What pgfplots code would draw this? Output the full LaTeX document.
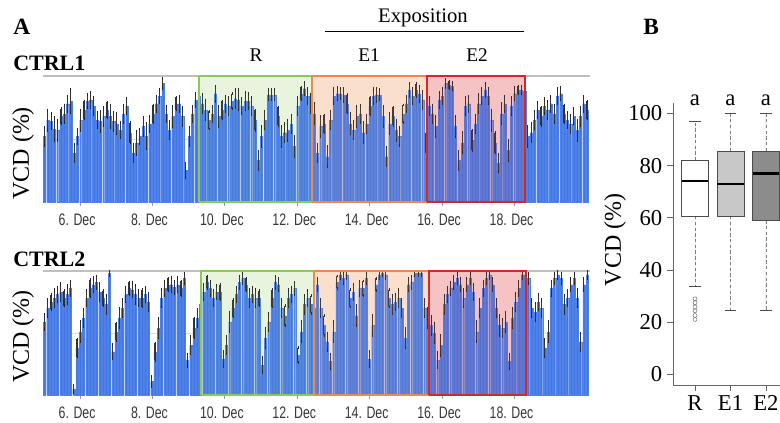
\documentclass[border=0pt]{standalone}
\usepackage{fontspec}
\setmainfont{Liberation Serif}
\newfontfamily\tickfont{Liberation Sans}
\usepackage{graphicx}
\usepackage{pgfplots}
\usepackage{pgfplotstable}
\pgfplotsset{compat=1.18}
\usepgfplotslibrary{statistics}

\definecolor{barblue}{RGB}{66,118,232}
\definecolor{baredge}{RGB}{80,130,230}
\definecolor{rline}{RGB}{140,200,90}
\definecolor{rfill}{RGB}{150,210,100}
\definecolor{rbg}{RGB}{239,247,230}
\definecolor{e1line}{RGB}{230,140,80}
\definecolor{e1fill}{RGB}{240,140,80}
\definecolor{e1bg}{RGB}{252,233,220}
\definecolor{e2line}{RGB}{210,40,40}
\definecolor{e2fill}{RGB}{220,60,60}
\definecolor{e2bg}{RGB}{249,216,216}
\definecolor{ticktext}{RGB}{55,55,55}
\definecolor{boxEone}{RGB}{200,200,200}
\definecolor{boxEtwo}{RGB}{140,140,140}

\pgfplotstableread[row sep=\\]{
v e \\
52 7 \\ 65 8 \\ 64 6 \\ 58 9 \\ 57 8 \\ 68 6 \\ 70 7 \\ 78 6 \\ 80 9 \\ 39 7 \\
52 6 \\ 65 8 \\ 73 7 \\ 80 5 \\ 81 6 \\ 76 7 \\ 65 6 \\ 64 8 \\ 68 7 \\ 73 6 \\
68 9 \\ 64 7 \\ 62 8 \\ 57 6 \\ 70 7 \\ 76 6 \\ 55 8 \\ 39 7 \\ 47 9 \\ 52 6 \\
60 7 \\ 52 10 \\ 62 6 \\ 70 7 \\ 78 6 \\ 84 5 \\ 94 4 \\ 70 6 \\ 57 7 \\ 68 8 \\
78 5 \\ 78 6 \\ 68 7 \\ 25 6 \\ 52 7 \\ 70 6 \\ 81 5 \\ 84 6 \\ 78 7 \\ 73 8 \\
65 7 \\ 70 6 \\ 86 6 \\ 68 8 \\ 73 7 \\ 78 6 \\
76 7 \\ 80 6 \\ 82 7 \\ 81 8 \\ 76 6 \\ 80 7 \\ 80 6 \\ 76 7 \\ 65 8 \\ 33 7 \\
52 8 \\ 65 7 \\ 85 4 \\ 85 4 \\ 85 4 \\ 68 7 \\ 52 8 \\ 55 7 \\ 57 8 \\ 62 7 \\
44 8 \\ 76 7 \\ 86 5 \\ 90 5 \\ 84 6 \\ 78 7 \\ 70 8 \\ 39 7 \\ 60 8 \\ 62 7 \\
36 8 \\ 65 7 \\ 84 6 \\ 86 5 \\ 86 4 \\ 85 5 \\ 78 7 \\ 62 8 \\ 57 7 \\ 68 8 \\
70 7 \\ 55 8 \\ 62 7 \\ 76 7 \\ 84 6 \\ 85 5 \\ 85 4 \\ 68 8 \\ 36 7 \\ 62 8 \\
68 7 \\ 57 8 \\ 52 7 \\ 70 7 \\ 78 6 \\
89 5 \\ 84 6 \\ 89 5 \\ 86 6 \\ 81 7 \\ 47 8 \\ 76 7 \\ 70 7 \\ 60 8 \\ 81 6 \\
84 6 \\ 94 3 \\ 93 3 \\ 92 3 \\ 60 8 \\ 33 7 \\ 47 8 \\ 76 7 \\ 78 6 \\ 49 8 \\
62 7 \\ 78 7 \\ 84 6 \\ 89 5 \\ 84 6 \\ 65 8 \\ 47 8 \\ 31 7 \\ 70 8 \\ 78 6 \\
41 8 \\ 76 7 \\ 86 5 \\ 89 3 \\ 89 3 \\ 88 3 \\ 52 8 \\ 55 7 \\ 65 7 \\ 73 6 \\
68 7 \\ 76 6 \\ 73 7 \\ 78 6 \\ 70 7 \\ 84 6 \\ 86 5 \\ 70 7 \\ 65 6 \\ 62 7 \\
68 6 \\ 57 8 \\ 68 7 \\ 78 6 \\ 73 7 \\
}\ctrlone

\pgfplotstableread[row sep=\\]{
v e \\
59 6 \\ 70 7 \\ 75 6 \\ 78 7 \\ 81 6 \\ 83 7 \\ 78 6 \\ 81 7 \\ 86 6 \\ 5 3 \\
38 7 \\ 51 8 \\ 62 7 \\ 78 6 \\ 86 7 \\ 89 6 \\ 91 5 \\ 83 7 \\ 78 6 \\ 73 7 \\
98 2 \\ 35 6 \\ 51 7 \\ 62 8 \\ 70 7 \\ 81 6 \\ 86 5 \\ 85 6 \\ 81 7 \\ 78 6 \\
78 7 \\ 81 6 \\ 75 7 \\ 11 4 \\ 35 7 \\ 54 8 \\ 78 7 \\ 86 6 \\ 89 5 \\ 89 6 \\
87 5 \\ 89 6 \\ 86 6 \\ 94 4 \\ 28 5 \\ 40 7 \\ 54 8 \\ 62 7 \\ 73 7 \\ 83 6 \\
91 5 \\ 86 6 \\ 78 6 \\ 83 5 \\ 83 6 \\ 29 6 \\ 40 7 \\ 59 8 \\ 70 7 \\
81 6 \\ 91 5 \\ 94 4 \\ 89 5 \\ 78 7 \\ 81 6 \\ 78 7 \\ 78 6 \\ 24 6 \\ 46 8 \\
59 7 \\ 78 7 \\ 91 5 \\ 89 5 \\ 70 7 \\ 64 8 \\ 78 7 \\ 81 6 \\ 86 5 \\ 32 6 \\
51 8 \\ 73 7 \\ 78 6 \\ 73 7 \\ 70 8 \\ 89 5 \\ 70 7 \\ 56 8 \\ 43 7 \\ 27 6 \\
51 8 \\ 91 5 \\ 97 3 \\ 94 4 \\ 97 3 \\ 78 7 \\ 83 6 \\ 64 8 \\ 86 6 \\ 86 6 \\
94 4 \\ 29 6 \\ 56 8 \\ 89 5 \\ 97 3 \\ 98 2 \\ 97 3 \\ 78 7 \\ 73 7 \\ 75 6 \\
78 7 \\ 70 7 \\ 46 8 \\ 89 5 \\ 91 5 \\
98 2 \\ 98 2 \\ 98 2 \\ 70 7 \\ 62 8 \\ 56 7 \\ 50 8 \\ 28 6 \\ 40 8 \\ 73 7 \\
81 6 \\ 86 5 \\ 91 5 \\ 94 4 \\ 89 5 \\ 78 7 \\ 89 5 \\ 94 4 \\ 83 6 \\ 51 8 \\
70 7 \\ 86 6 \\ 94 4 \\ 97 3 \\ 89 5 \\ 70 7 \\ 56 8 \\ 54 7 \\ 59 8 \\ 27 6 \\
62 8 \\ 75 7 \\ 86 6 \\ 97 3 \\ 97 3 \\ 94 4 \\ 70 7 \\ 67 7 \\ 75 6 \\ 70 7 \\
38 7 \\ 51 8 \\ 86 6 \\ 94 4 \\ 97 3 \\ 94 4 \\ 73 7 \\ 78 6 \\ 89 5 \\ 94 4 \\
78 7 \\ 43 7 \\ 89 5 \\ 97 3 \\
}\ctrltwo

\pgfplotsset{
  panelA/.style={
    anchor=south west, scale only axis, width=410.25pt,
    xmin=43, xmax=590, ymin=0, ymax=100, clip=false,
    axis line style={draw=none},
    ytick={50,100}, yticklabels={}, ytick style={draw=none},
    ymajorgrids, y grid style={black!12, line width=0.5pt},
    xtick={80,152.4,224.8,297.2,369.6,442,514.4},
    xticklabels={\scalebox{0.74}[1]{6. Dec},\scalebox{0.74}[1]{8. Dec},\scalebox{0.74}[1]{10. Dec},\scalebox{0.74}[1]{12. Dec},\scalebox{0.74}[1]{14. Dec},\scalebox{0.74}[1]{16. Dec},\scalebox{0.74}[1]{18. Dec}},
    xtick pos=left, tick align=outside, major tick length=3pt,
    xtick style={black!40, line width=0.5pt},
    xticklabel style={font=\tickfont\fontsize{12.5}{14}\selectfont, text=ticktext, anchor=center, yshift=-10.5pt, xshift=-2.2pt},
  },
  vbars/.style={ybar, bar width=2.1, fill=barblue, draw=baredge, line width=0.1pt,
    error bars/.cd, y dir=both, y explicit,
    error bar style={black!80, line width=0.85pt},
    error mark options={black!85, mark size=1.05pt, line width=0.6pt}},
}

\begin{document}
\begin{tikzpicture}
\useasboundingbox (0pt,0pt) rectangle (585pt,-317.25pt);

% ---------- Panel A, CTRL1 ----------
\begin{axis}[panelA, at={(32.25pt,-151.5pt)}, height=94.5pt]
\addplot[draw=none, fill=rbg] coordinates {(199,0) (199,100) (312,100) (312,0)} \closedcycle;
\addplot[draw=none, fill=e1bg] coordinates {(312,0) (312,100) (427,100) (427,0)} \closedcycle;
\addplot[draw=none, fill=e2bg] coordinates {(427,0) (427,100) (525,100) (525,0)} \closedcycle;
\addplot[black!25, line width=0.8pt] coordinates {(43,100) (590,100)};
\addplot[vbars] table[x expr=44.5+\coordindex*3.288, y=v, y error=e]{\ctrlone};
\addplot[draw=none, fill=rfill, fill opacity=0.06] coordinates {(199,0) (199,100) (312,100) (312,0)} \closedcycle;
\addplot[draw=none, fill=e1fill, fill opacity=0.1] coordinates {(312,0) (312,100) (427,100) (427,0)} \closedcycle;
\addplot[draw=none, fill=e2fill, fill opacity=0.13] coordinates {(427,0) (427,100) (525,100) (525,0)} \closedcycle;
\addplot[rline, line width=0.8pt] coordinates {(199,0) (199,100) (312,100) (312,0) (199,0)};
\addplot[e1line, line width=0.8pt] coordinates {(312,0) (312,100) (427,100) (427,0) (312,0)};
\addplot[e2line, line width=0.8pt] coordinates {(427,0) (427,100) (525,100) (525,0) (427,0)};
\end{axis}

% ---------- Panel A, CTRL2 ----------
\begin{axis}[panelA, at={(32.25pt,-296.25pt)}, height=93pt]
\addplot[draw=none, fill=rbg] coordinates {(201,0) (201,100) (314,100) (314,0)} \closedcycle;
\addplot[draw=none, fill=e1bg] coordinates {(314,0) (314,100) (429,100) (429,0)} \closedcycle;
\addplot[draw=none, fill=e2bg] coordinates {(429,0) (429,100) (526,100) (526,0)} \closedcycle;
\addplot[black!25, line width=0.8pt] coordinates {(43,100) (590,100)};
\addplot[vbars] table[x expr=44.5+\coordindex*3.249, y=v, y error=e]{\ctrltwo};
\addplot[draw=none, fill=rfill, fill opacity=0.06] coordinates {(201,0) (201,100) (314,100) (314,0)} \closedcycle;
\addplot[draw=none, fill=e1fill, fill opacity=0.1] coordinates {(314,0) (314,100) (429,100) (429,0)} \closedcycle;
\addplot[draw=none, fill=e2fill, fill opacity=0.13] coordinates {(429,0) (429,100) (526,100) (526,0)} \closedcycle;
\addplot[rline, line width=0.8pt] coordinates {(201,0) (201,100) (314,100) (314,0) (201,0)};
\addplot[e1line, line width=0.8pt] coordinates {(314,0) (314,100) (429,100) (429,0) (314,0)};
\addplot[e2line, line width=0.8pt] coordinates {(429,0) (429,100) (526,100) (526,0) (429,0)};
\end{axis}

% ---------- Panel A texts ----------
\node[anchor=base west, font=\bfseries\fontsize{17.5}{20}\selectfont, inner sep=0pt] at (9.75pt,-26.25pt) {A};
\node[anchor=base west, font=\bfseries\fontsize{16.5}{19}\selectfont, inner sep=0pt] at (9.75pt,-53.25pt) {CTRL1};
\node[anchor=base west, font=\bfseries\fontsize{16.5}{19}\selectfont, inner sep=0pt] at (9.75pt,-200.25pt) {CTRL2};
\node[anchor=base, font=\fontsize{15.5}{18}\selectfont, inner sep=0pt] at (317.25pt,-17.25pt) {Exposition};
\draw[black, line width=0.75pt] (243.75pt,-24pt) -- (393pt,-24pt);
\node[anchor=base, font=\fontsize{14.5}{17}\selectfont, inner sep=0pt] at (192pt,-46.5pt) {R};
\node[anchor=base, font=\fontsize{14.5}{17}\selectfont, inner sep=0pt] at (276.75pt,-46.5pt) {E1};
\node[anchor=base, font=\fontsize{14.5}{17}\selectfont, inner sep=0pt] at (357.75pt,-46.5pt) {E2};
\node[rotate=90, font=\fontsize{18}{20}\selectfont, inner sep=0pt] at (17.25pt,-115pt) {VCD (\%)};
\node[rotate=90, font=\fontsize{18}{20}\selectfont, inner sep=0pt] at (17.25pt,-252.4pt) {VCD (\%)};

% ---------- Panel B ----------
\node[anchor=base west, font=\bfseries\fontsize{17.5}{20}\selectfont, inner sep=0pt] at (482.25pt,-26.25pt) {B};
\node[rotate=90, font=\fontsize{18}{20}\selectfont, inner sep=0pt] at (461.25pt,-180pt) {VCD (\%)};

\begin{axis}[
  at={(504.75pt,-288.75pt)}, anchor=south west,
  scale only axis, width=85.7pt, height=211.5pt,
  xmin=0.38, xmax=3.6, ymin=-4, ymax=104,
  axis x line*=bottom, axis y line*=left,
  axis line style={black!60, line width=0.6pt},
  tick align=outside, major tick length=4.5pt,
  tick style={black!60, line width=0.6pt},
  xtick={1,2,3}, xticklabels={R,E1,E2},
  ytick={0,20,40,60,80,100},
  ticklabel style={font=\fontsize{17}{20}\selectfont},
  /pgf/number format/assume math mode=true,
  clip=false,
  boxplot/draw direction=y,
  boxplot/box extend=0.76,
  boxplot/whisker extend=0,
]
\addplot[boxplot prepared={lower whisker=33.8, lower quartile=60.7, median=74.1, upper quartile=82, upper whisker=97.1, draw position=1},
  draw=black!70, fill=white, line width=0.6pt,
  mark=o, mark size=1.5pt, mark options={black!55, line width=0.4pt, fill=none},
  boxplot/every whisker/.style={black!50, dash pattern=on 2.5pt off 1.8pt},
  boxplot/every median/.style={black, line width=1.8pt}]
  table[row sep=\\, y index=0]{29\\27.5\\25.9\\24.4\\22.6\\21.1\\};
\addplot[boxplot prepared={lower whisker=24.6, lower quartile=60.7, median=73, upper quartile=85.6, upper whisker=100, draw position=2},
  draw=black!70, fill=boxEone, line width=0.6pt,
  boxplot/every whisker/.style={black!50, dash pattern=on 2.5pt off 1.8pt},
  boxplot/every median/.style={black, line width=1.8pt}]
  coordinates {};
\addplot[boxplot prepared={lower whisker=24.6, lower quartile=59.1, median=77, upper quartile=85.6, upper whisker=100, draw position=3},
  draw=black!70, fill=boxEtwo, line width=0.6pt,
  boxplot/every whisker/.style={black!50, dash pattern=on 2.5pt off 1.8pt},
  boxplot/every median/.style={black, line width=1.8pt}]
  coordinates {};
% whisker caps
\addplot[black!70, line width=0.6pt] coordinates {(0.835,97.1) (1.165,97.1)};
\addplot[black!70, line width=0.6pt] coordinates {(0.835,33.8) (1.165,33.8)};
\addplot[black!70, line width=0.6pt] coordinates {(1.835,100) (2.165,100)};
\addplot[black!70, line width=0.6pt] coordinates {(1.835,24.6) (2.165,24.6)};
\addplot[black!70, line width=0.6pt] coordinates {(2.835,100) (3.165,100)};
\addplot[black!70, line width=0.6pt] coordinates {(2.835,24.6) (3.165,24.6)};
\node[font=\fontsize{17}{20}\selectfont, anchor=base] at (axis cs:1,103) {a};
\node[font=\fontsize{17}{20}\selectfont, anchor=base] at (axis cs:2,103) {a};
\node[font=\fontsize{17}{20}\selectfont, anchor=base] at (axis cs:3,103) {a};
\end{axis}
\end{tikzpicture}
\end{document}
